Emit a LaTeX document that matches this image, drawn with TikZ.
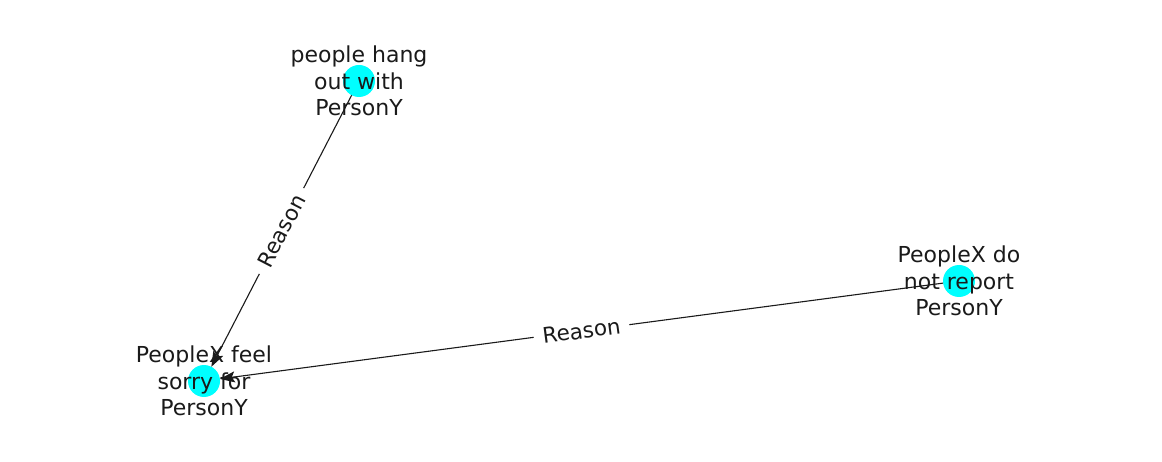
\documentclass[tikz,border=0pt]{standalone}
\usepackage{fontspec}
\setmainfont{DejaVu Sans}
\usetikzlibrary{arrows.meta}
\definecolor{nodecyan}{RGB}{0,255,255}
\definecolor{ink}{RGB}{26,26,26}
\tikzset{
  dot/.style={circle, fill=nodecyan, draw=none, minimum size=32pt, inner sep=0pt, outer sep=0pt},
  lbl/.style={align=center, font=\fontsize{22}{26.5}\selectfont, text=ink, inner sep=0pt},
  edge/.style={line width=1.1pt, draw=ink, -{Stealth[length=15pt,width=11pt,inset=3pt]}},
  elbl/.style={midway, sloped, fill=white, inner xsep=9pt, inner ysep=3pt, font=\fontsize{21.5}{24}\selectfont, text=ink}
}
\begin{document}
\begin{tikzpicture}[x=1pt,y=-1pt]
\useasboundingbox (0,0) rectangle (1162,462);
\node[dot] (a) at (359,81) {};
\node[dot] (b) at (959,281) {};
\node[dot] (c) at (204,381) {};
\node[lbl] (ta) at (359,81) {people hang\\out with\\PersonY};
\node[lbl] (tb) at (959,281) {PeopleX do\\not report\\PersonY};
\node[lbl] (tc) at (204,381) {PeopleX feel\\sorry for\\PersonY};
\draw[edge] (a) -- (c) node[elbl] {Reason};
\draw[edge] (b) -- (c) node[elbl] {Reason};
\end{tikzpicture}
\end{document}
